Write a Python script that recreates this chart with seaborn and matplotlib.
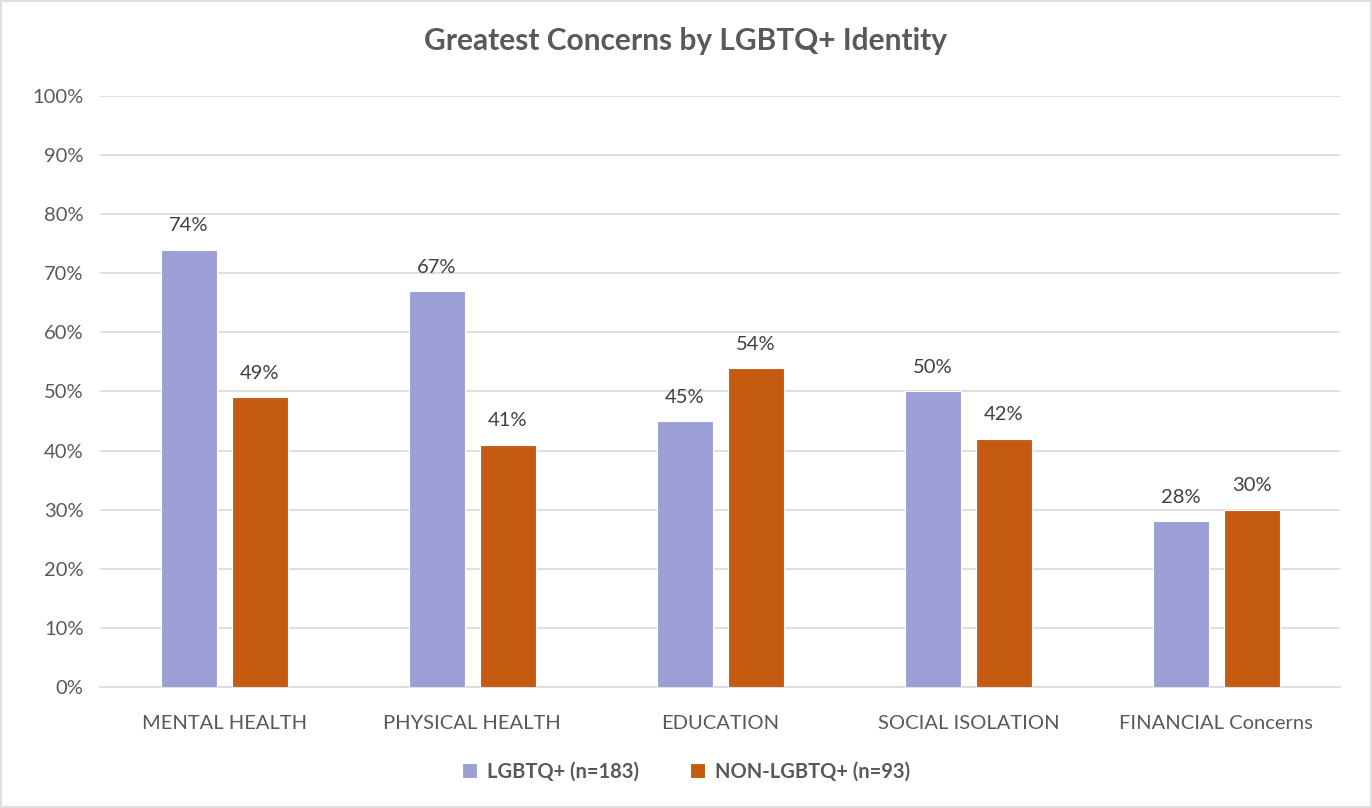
import numpy as np
import pandas as pd
import matplotlib
matplotlib.use('Agg')
import matplotlib.pyplot as plt
import seaborn as sns
from matplotlib.ticker import FuncFormatter

CATEGORIES = ['MENTAL HEALTH', 'PHYSICAL HEALTH', 'EDUCATION', 'SOCIAL ISOLATION', 'FINANCIAL Concerns']
GROUPS = ['LGBTQ+ (n=183)', 'NON-LGBTQ+ (n=93)']
LGBTQ = [74, 67, 45, 50, 28]
NON_LGBTQ = [49, 41, 54, 42, 30]
COLORS = ['#9b9fd5', '#c55a11']

df = pd.DataFrame({
    'category': CATEGORIES * 2,
    'group': [GROUPS[0]] * len(CATEGORIES) + [GROUPS[1]] * len(CATEGORIES),
    'value': LGBTQ + NON_LGBTQ,
})

sns.set_style('white')
plt.rcParams['font.family'] = ['Lato', 'DejaVu Sans']

fig = plt.figure(figsize=(13.72, 8.08), dpi=100)
ax = fig.add_axes([0.073, 0.150, 0.904, 0.731])

sns.barplot(data=df, x='category', y='value', hue='group', order=CATEGORIES,
            hue_order=GROUPS, palette=COLORS, saturation=1, width=0.573, gap=0.21,
            edgecolor='white', linewidth=0.8, ax=ax, legend=True, zorder=3)

for cont in ax.containers:
    ax.bar_label(cont, labels=[f'{v:.0f}%' for v in cont.datavalues],
                 padding=11, fontsize=14.5, color='#404040')

ax.set_ylim(0, 100)
ax.set_yticks(np.arange(0, 101, 10))
ax.yaxis.set_major_formatter(FuncFormatter(lambda v, p: f'{v:.0f}%'))
ax.grid(axis='y', color='#d9d9d9', linewidth=1.2, zorder=0)
ax.set_axisbelow(True)
for s in ['top', 'right', 'left']:
    ax.spines[s].set_visible(False)
ax.spines['bottom'].set_color('#d9d9d9')
ax.spines['bottom'].set_linewidth(1.2)
ax.tick_params(axis='both', length=0, labelsize=14.5, colors='#595959', pad=12)
ax.tick_params(axis='x', pad=20)
ax.set_xlabel('')
ax.set_ylabel('')
ax.set_xlim(-0.5, 4.5)

fig.suptitle('Greatest Concerns by LGBTQ+ Identity', y=0.967, fontsize=21.5,
             fontweight='bold', color='#595959')

handles, labels = ax.get_legend_handles_labels()
ax.get_legend().remove()
leg = fig.legend(handles, labels, loc='center', bbox_to_anchor=(0.5, 0.045), ncol=2,
                 frameon=False, handlelength=0.75, handleheight=0.75, columnspacing=2.5,
                 handletextpad=0.5, prop={'size': 14.5, 'weight': 'bold'})
for t in leg.get_texts():
    t.set_color('#595959')

fig.patches.append(plt.Rectangle((0.001, 0.001), 0.998, 0.998, transform=fig.transFigure,
                                 fill=False, edgecolor='#d9d9d9', linewidth=1.2))

fig.savefig('out.png', dpi=100)
